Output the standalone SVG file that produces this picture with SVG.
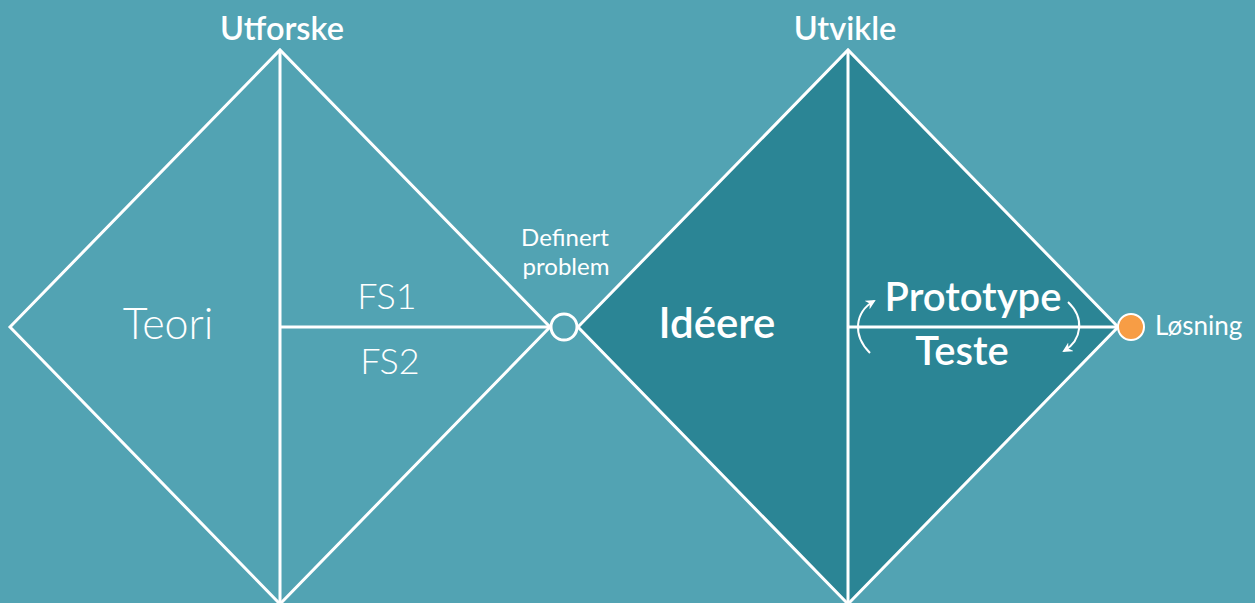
<svg xmlns="http://www.w3.org/2000/svg" width="1255" height="603" viewBox="0 0 1255 603">
  <defs>
    <style>
      .bg { fill: #52a3b3; }
      .line { stroke: #ffffff; stroke-width: 3; fill: none; }
      .dark { fill: #2b8595; }
      .txt { fill: #ffffff; font-family: Lato, "Open Sans", "Liberation Sans", sans-serif; text-anchor: middle; }
      .start { text-anchor: start; }
      .light { font-weight: 300; }
      .semi { font-weight: 600; }
      .arc { stroke: #ffffff; stroke-width: 2; fill: none; }
    </style>
    <marker id="head" viewBox="0 0 10 10" refX="8" refY="5" markerWidth="5" markerHeight="5" orient="auto">
      <path d="M0,0 L10,5 L0,10 L3,5 Z" fill="#ffffff"/>
    </marker>
  </defs>

  <rect class="bg" x="0" y="0" width="1255" height="603"/>

  <!-- Explore diamond -->
  <g id="utforske">
    <polygon class="line" points="10,327 280,50 550,327 280,604"/>
    <line class="line" x1="280" y1="50" x2="280" y2="604"/>
    <line class="line" x1="280" y1="327" x2="551" y2="327"/>
    <text class="txt semi" x="282" y="40" font-size="32.5">Utforske</text>
    <text class="txt light" x="168" y="339" font-size="43">Teori</text>
    <text class="txt light" x="387" y="309" font-size="36">FS1</text>
    <text class="txt light" x="390" y="374" font-size="36">FS2</text>
  </g>

  <!-- Develop diamond -->
  <g id="utvikle">
    <polygon class="dark" points="578,327 848,50 1118,327 848,604"/>
    <polygon class="line" points="578,327 848,50 1118,327 848,604"/>
    <line class="line" x1="848" y1="50" x2="848" y2="604"/>
    <line class="line" x1="848" y1="327" x2="1118" y2="327"/>
    <text class="txt semi" x="845" y="40" font-size="32.5">Utvikle</text>
    <text class="txt semi" x="717" y="338" font-size="42">Idéere</text>
    <text class="txt semi" x="973" y="311" font-size="40">Prototype</text>
    <text class="txt semi" x="962" y="365" font-size="40">Teste</text>
  </g>

  <!-- Defined problem point -->
  <g id="definert-problem">
    <circle cx="564" cy="327" r="13" fill="#52a3b3" stroke="#ffffff" stroke-width="3"/>
    <text class="txt" x="565" y="246" font-size="24">Definert</text>
    <text class="txt" x="566" y="275" font-size="24">problem</text>
  </g>

  <!-- Solution point -->
  <g id="losning">
    <circle cx="1131" cy="327" r="13" fill="#f79d45" stroke="#ffffff" stroke-width="2"/>
    <text class="txt start" x="1155" y="335" font-size="26">Løsning</text>
  </g>

  <!-- Iteration arrows -->
  <g id="connectors">
    <path class="arc" d="M870,353 C852,335 855,312 874,301" marker-end="url(#head)"/>
    <path class="arc" d="M1068,302 C1085,318 1082,340 1064,351" marker-end="url(#head)"/>
  </g>
</svg>
